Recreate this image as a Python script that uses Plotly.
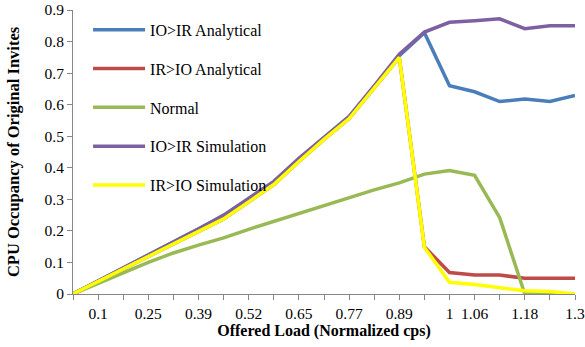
import plotly.graph_objects as go

# Category positions (21 ticks) and their labels (blank = unlabeled tick)
load_labels = ["", "0.1", "", "0.25", "", "0.39", "", "0.52", "", "0.65", "",
               "0.77", "", "0.89", "", "1", "1.06", "", "1.18", "", "1.3"]
x_idx = list(range(len(load_labels)))

io_ir_analytical = [0, 0.041, 0.082, 0.123, 0.164, 0.205, 0.248, 0.300, 0.354, 0.427,
                    0.494, 0.560, 0.658, 0.755, 0.828, 0.660, 0.641, 0.610, 0.618, 0.610, 0.629]
ir_io_analytical = [0, 0.040, 0.080, 0.120, 0.160, 0.200, 0.238, 0.292, 0.347, 0.420,
                    0.490, 0.556, 0.655, 0.750, 0.150, 0.068, 0.060, 0.060, 0.050, 0.050, 0.050]
normal = [0, 0.035, 0.067, 0.100, 0.130, 0.155, 0.178, 0.205, 0.230, 0.256,
          0.280, 0.305, 0.330, 0.352, 0.380, 0.391, 0.376, 0.242, 0.0, 0.0, 0.0]
io_ir_simulation = [0, 0.041, 0.082, 0.123, 0.164, 0.206, 0.250, 0.303, 0.357, 0.430,
                    0.497, 0.563, 0.660, 0.760, 0.830, 0.861, 0.866, 0.872, 0.841, 0.850, 0.850]
ir_io_simulation = [0, 0.040, 0.080, 0.120, 0.160, 0.200, 0.238, 0.292, 0.347, 0.420,
                    0.490, 0.556, 0.655, 0.750, 0.148, 0.037, 0.030, 0.020, 0.010, 0.008, 0.0]

series = [
    ("IO>IR Analytical", io_ir_analytical, "#4A7EBB"),
    ("IR>IO Analytical", ir_io_analytical, "#BE4B48"),
    ("Normal", normal, "#98B954"),
    ("IO>IR Simulation", io_ir_simulation, "#7D60A0"),
    ("IR>IO Simulation", ir_io_simulation, "#FFFF00"),
]

font_family = "Liberation Serif"

fig = go.Figure()
for i, (name, vals, color) in enumerate(series):
    fig.add_trace(go.Scatter(
        x=x_idx, y=vals, mode="lines", name=name,
        line=dict(color=color, width=3.5),
        legendgroup=f"g{i}",
    ))

axis_color = "#868686"
fig.update_layout(
    width=585, height=347,
    margin=dict(l=73, r=10, t=10, b=53),
    paper_bgcolor="white", plot_bgcolor="white",
    font=dict(family=font_family, size=15, color="black"),
    showlegend=True,
    legend=dict(
        x=0.03, y=0.99, xanchor="left", yanchor="top",
        bgcolor="rgba(0,0,0,0)", tracegroupgap=15,
        font=dict(size=16, family=font_family),
        itemwidth=52,
    ),
    xaxis=dict(
        range=[0, 20], tickmode="array", tickvals=x_idx, ticktext=load_labels,
        showline=True, linecolor=axis_color, linewidth=1,
        ticks="outside", ticklen=5, tickcolor=axis_color,
        showgrid=False, zeroline=False, ticklabeloverflow="allow",
        automargin=False,
        tickfont=dict(size=15.5, family=font_family),
        title=dict(text="<b>Offered Load (Normalized cps)</b>",
                   font=dict(size=16, family=font_family), standoff=2),
    ),
    yaxis=dict(
        range=[0, 0.9001], dtick=0.1, tick0=0,
        showline=True, linecolor=axis_color, linewidth=1,
        ticks="outside", ticklen=5, tickcolor=axis_color,
        showgrid=False, zeroline=False, ticklabeloverflow="allow",
        automargin=False,
        tickfont=dict(size=15.5, family=font_family),
        title=dict(text="<b>CPU Occupancy of Original Invites</b>",
                   font=dict(size=16.5, family=font_family), standoff=20),
    ),
)

fig.write_html("out.html")
